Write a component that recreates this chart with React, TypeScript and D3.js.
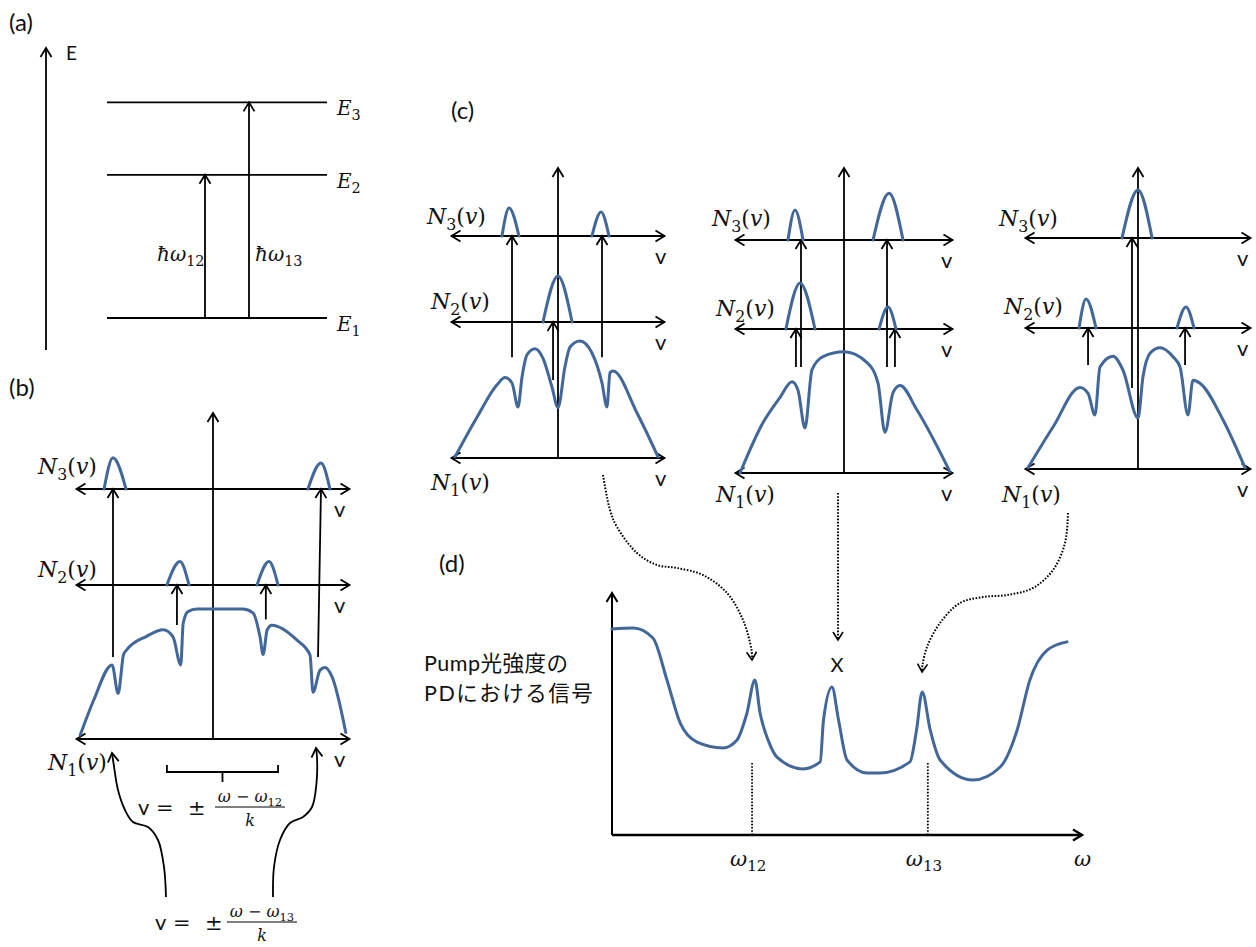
import * as d3 from 'd3';
import React, { useEffect, useRef } from 'react';

type Pt = [number, number];
type Peak = { l: number; c: number; r: number; h: number };
type Arr = { v0: number; v1?: number; n: number; to: 2 | 3 };

// ---------- (a) energy levels (energy units 0..100) ----------
const levelNames = ['1', '2', '3'];
const levelValues = [10.6, 58, 82];
const transitionNames = ['12', '13'];
const transitionTargets = [1, 2];

// ---------- (b) velocity distributions, v in [-1,1], N relative ----------
const curveB: Pt[] = [
  [-0.98, 0.03], [-0.88, 0.3], [-0.745, 0.57], [-0.7, 0.35], [-0.66, 0.65], [-0.637, 0.685],
  [-0.49, 0.79], [-0.367, 0.84], [-0.295, 0.785], [-0.238, 0.57], [-0.22, 0.89], [-0.185, 0.98],
  [-0.118, 1.0], [0.22, 1.0], [0.295, 0.97], [0.347, 0.785], [0.37, 0.65], [0.4, 0.84],
  [0.435, 0.875], [0.62, 0.76], [0.716, 0.646], [0.738, 0.36], [0.79, 0.53], [0.826, 0.55],
  [0.878, 0.48], [0.98, 0.05],
];
const peaksB3: Peak[] = [{ l: -0.804, c: -0.738, r: -0.642, h: 0.24 }, { l: 0.701, c: 0.797, r: 0.863, h: 0.2 }];
const peaksB2: Peak[] = [{ l: -0.34, c: -0.244, r: -0.177, h: 0.18 }, { l: 0.325, c: 0.413, r: 0.48, h: 0.18 }];
const arrowsB: Arr[] = [
  { v0: -0.738, n: 0.63, to: 3 }, { v0: 0.775, v1: 0.797, n: 0.63, to: 3 },
  { v0: -0.266, n: 0.877, to: 2 }, { v0: 0.39, n: 0.92, to: 2 },
];

// ---------- (c) three cases ----------
const curveC1: Pt[] = [
  [-0.976, 0.01], [-0.768, 0.34], [-0.578, 0.61], [-0.502, 0.67], [-0.436, 0.625], [-0.379, 0.425],
  [-0.341, 0.675], [-0.294, 0.86], [-0.218, 0.91], [-0.142, 0.83], [-0.057, 0.59], [0, 0.42],
  [0.066, 0.76], [0.114, 0.925], [0.208, 0.975], [0.322, 0.875], [0.417, 0.625], [0.464, 0.425],
  [0.493, 0.71], [0.521, 0.725], [0.749, 0.375], [0.948, 0.01],
];
const peaksC1_3: Peak[] = [{ l: -0.531, c: -0.464, r: -0.37, h: 0.233 }, { l: 0.322, c: 0.408, r: 0.483, h: 0.2 }];
const peaksC1_2: Peak[] = [{ l: -0.142, c: 0, r: 0.133, h: 0.383 }];
const arrowsC1: Arr[] = [{ v0: -0.436, n: 0.84, to: 3 }, { v0: 0.417, n: 0.84, to: 3 }, { v0: -0.047, n: 0.65, to: 2 }];

const curveC2: Pt[] = [
  [-0.967, 0], [-0.753, 0.42], [-0.595, 0.63], [-0.484, 0.76], [-0.428, 0.69], [-0.363, 0.375],
  [-0.298, 0.86], [-0.195, 0.97], [0, 1.01], [0.214, 0.92], [0.316, 0.75], [0.381, 0.34],
  [0.456, 0.67], [0.521, 0.73], [0.679, 0.525], [0.986, 0.01],
];
const peaksC2_3: Peak[] = [{ l: -0.521, c: -0.456, r: -0.381, h: 0.25 }, { l: 0.27, c: 0.419, r: 0.549, h: 0.39 }];
const peaksC2_2: Peak[] = [{ l: -0.54, c: -0.409, r: -0.27, h: 0.383 }, { l: 0.326, c: 0.409, r: 0.484, h: 0.183 }];
const arrowsC2: Arr[] = [
  { v0: -0.4, n: 0.883, to: 3 }, { v0: -0.447, n: 0.883, to: 2 },
  { v0: 0.4, n: 0.883, to: 3 }, { v0: 0.474, n: 0.883, to: 2 },
];

const curveC3: Pt[] = [
  [-0.987, 0.01], [-0.762, 0.35], [-0.52, 0.68], [-0.448, 0.63], [-0.386, 0.45], [-0.341, 0.85],
  [-0.224, 0.94], [-0.135, 0.825], [0, 0.425], [0.045, 0.77], [0.108, 0.965], [0.197, 1.01],
  [0.314, 0.935], [0.377, 0.85], [0.448, 0.45], [0.493, 0.74], [0.556, 0.715], [0.762, 0.41],
  [0.96, 0.01],
];
const peaksC3_3: Peak[] = [{ l: -0.143, c: 0, r: 0.126, h: 0.4 }];
const peaksC3_2: Peak[] = [{ l: -0.529, c: -0.466, r: -0.377, h: 0.242 }, { l: 0.35, c: 0.43, r: 0.502, h: 0.175 }];
const arrowsC3: Arr[] = [{ v0: -0.448, n: 0.867, to: 2 }, { v0: 0.422, n: 0.867, to: 2 }, { v0: -0.054, n: 0.675, to: 3 }];

// ---------- (d) pump signal vs omega (0..100 units) ----------
const omegaPts = [0, 4.5, 8.7, 11.7, 14.5, 18.1, 23.6, 26.6, 28.7, 30.4, 31.5, 33.2, 35.1, 40.6, 44.3, 45.0, 46.8, 48.2, 50.0, 54.3, 57.0, 63.4, 64.8, 66.0, 67.7, 69.8, 76.8, 82.6, 86.2, 88.9, 92.6, 96.8];
const signalPts = [85.1, 85.5, 81.4, 64.0, 46.3, 38.4, 36.0, 39.3, 50.3, 64.0, 50.4, 39.3, 32.2, 27.3, 30.2, 47.5, 61.2, 47.5, 31.0, 25.6, 25.6, 30.2, 43.4, 59.1, 43.4, 31.0, 22.7, 28.1, 43.4, 64.0, 76.4, 79.8];
const omegaMarks = [29.8, 67.2];
const omegaMarkNames = ['12', '13'];
const omegaMarkTop = 29.8;

const BLACK = '#000';
const BLUE = '#42679a';
const SANS = 'Lato, "Noto Sans CJK JP", sans-serif';
const SERIF = '"DejaVu Serif", serif';

type Sel = d3.Selection<SVGGElement, unknown, null, undefined>;

function head(g: Sel, x: number, y: number, ang: number, len = 9, hw = 5.5, w = 1.8) {
  const dx = Math.cos(ang), dy = Math.sin(ang);
  const p1 = [x - len * dx - hw * dy, y - len * dy + hw * dx];
  const p2 = [x - len * dx + hw * dy, y - len * dy - hw * dx];
  g.append('path').attr('d', `M${p1[0]},${p1[1]}L${x},${y}L${p2[0]},${p2[1]}`)
    .attr('fill', 'none').attr('stroke', BLACK).attr('stroke-width', w);
}
function arrow(g: Sel, x0: number, y0: number, x1: number, y1: number, w = 1.8) {
  g.append('line').attr('x1', x0).attr('y1', y0).attr('x2', x1).attr('y2', y1)
    .attr('stroke', BLACK).attr('stroke-width', w);
  head(g, x1, y1, Math.atan2(y1 - y0, x1 - x0), 9, 5.5, w);
}
function dblArrow(g: Sel, x0: number, x1: number, y: number) {
  g.append('line').attr('x1', x0).attr('y1', y).attr('x2', x1).attr('y2', y)
    .attr('stroke', BLACK).attr('stroke-width', 1.8);
  head(g, x0, y, Math.PI);
  head(g, x1, y, 0);
}
type Part = { t: string; it?: boolean; sub?: boolean; font?: string };
function mathText(g: Sel, x: number, y: number, parts: Part[], size: number, anchor = 'start') {
  const t = g.append('text').attr('x', x).attr('y', y).attr('font-size', size)
    .attr('font-family', SERIF).attr('text-anchor', anchor).attr('fill', '#111');
  let low = false;
  parts.forEach(p => {
    const s = t.append('tspan').text(p.t);
    if (p.it) s.attr('font-style', 'italic');
    if (p.font) s.attr('font-family', p.font);
    if (p.sub) {
      s.attr('font-size', size * 0.72);
      if (!low) s.attr('dy', size * 0.25);
      low = true;
    } else if (low) {
      s.attr('dy', -size * 0.25);
      low = false;
    }
  });
  return t;
}
function plainText(g: Sel, x: number, y: number, s: string, size: number, anchor = 'start') {
  return g.append('text').attr('x', x).attr('y', y).attr('font-size', size)
    .attr('font-family', SANS).attr('text-anchor', anchor).attr('fill', '#111').text(s);
}
const nLabel = (k: string): Part[] => [{ t: 'N', it: true }, { t: k, sub: true }, { t: '(' }, { t: 'v', it: true }, { t: ')' }];

type VPanel = {
  cx: number; half: number; y3: number; y2: number; y1: number; top: number; nPx: number;
  curve: Pt[]; p3: Peak[]; p2: Peak[]; arrows: Arr[];
  lab3: Pt; lab2: Pt; lab1: Pt; vx: number;
};

const vPanels: VPanel[] = [
  { cx: 213, half: 135.5, y3: 489, y2: 585, y1: 739, top: 413, nPx: 130, curve: curveB, p3: peaksB3, p2: peaksB2, arrows: arrowsB,
    lab3: [38, 474], lab2: [38, 577], lab1: [48, 770], vx: 334 },
  { cx: 558, half: 105.5, y3: 236, y2: 322, y1: 458, top: 168, nPx: 120, curve: curveC1, p3: peaksC1_3, p2: peaksC1_2, arrows: arrowsC1,
    lab3: [427, 224], lab2: [431, 309], lab1: [431, 490], vx: 655 },
  { cx: 844, half: 107.5, y3: 240, y2: 329, y1: 473, top: 168, nPx: 120, curve: curveC2, p3: peaksC2_3, p2: peaksC2_2, arrows: arrowsC2,
    lab3: [712, 226], lab2: [716, 316], lab1: [716, 502], vx: 941 },
  { cx: 1138, half: 111.5, y3: 238, y2: 328, y1: 469, top: 168, nPx: 120, curve: curveC3, p3: peaksC3_3, p2: peaksC3_2, arrows: arrowsC3,
    lab3: [999, 226], lab2: [1004, 314], lab1: [1002, 502], vx: 1237 },
];

function drawVPanel(g: Sel, p: VPanel) {
  const x = d3.scaleLinear().domain([-1, 1]).range([p.cx - p.half, p.cx + p.half]);
  const yFor = (base: number) => d3.scaleLinear().domain([0, 1]).range([base, base - p.nPx]);
  const y1 = yFor(p.y1), y2 = yFor(p.y2), y3 = yFor(p.y3);
  const line = (ys: d3.ScaleLinear<number, number>) =>
    d3.line<Pt>().x(d => x(d[0])).y(d => ys(d[1])).curve(d3.curveMonotoneX);

  // axes
  arrow(g, p.cx, p.y1, p.cx, p.top);
  [p.y3, p.y2, p.y1].forEach(yy => dblArrow(g, x(-1) - 1, x(1) + 1, yy));

  // transition arrows
  p.arrows.forEach(a => {
    const tip = a.to === 3 ? p.y3 : p.y2;
    arrow(g, x(a.v0), y1(a.n), x(a.v1 ?? a.v0), tip);
  });

  // distributions
  const blue = (sel: d3.Selection<SVGPathElement, unknown, null, undefined>) =>
    sel.attr('fill', 'none').attr('stroke', BLUE).attr('stroke-width', 3).attr('stroke-linecap', 'round');
  g.append('path').attr('d', line(y1)(p.curve)).call(blue);
  p.p3.forEach(k => g.append('path').attr('d', line(y3)([[k.l, 0], [k.c, k.h], [k.r, 0]])).call(blue));
  p.p2.forEach(k => g.append('path').attr('d', line(y2)([[k.l, 0], [k.c, k.h], [k.r, 0]])).call(blue));

  // labels
  mathText(g, p.lab3[0], p.lab3[1], nLabel('3'), 22);
  mathText(g, p.lab2[0], p.lab2[1], nLabel('2'), 22);
  mathText(g, p.lab1[0], p.lab1[1], nLabel('1'), 22);
  [p.y3, p.y2, p.y1].forEach(yy => plainText(g, p.vx, yy + 28, 'v', 22));
  return x;
}

function draw(svg: d3.Selection<SVGSVGElement, unknown, null, undefined>) {
  const g = svg.append('g') as unknown as Sel;
  g.append('rect').attr('width', 1256).attr('height', 947).attr('fill', '#fff');

  // ---------- (a) ----------
  plainText(g, 9, 31, '(a)', 24);
  const yE = d3.scaleLinear().domain([0, 100]).range([350, 48]);
  arrow(g, 46, yE(0), 46, yE(100));
  plainText(g, 66, 60, 'E', 19);
  levelValues.forEach((v, i) => {
    g.append('line').attr('x1', 107).attr('x2', 327).attr('y1', yE(v)).attr('y2', yE(v))
      .attr('stroke', BLACK).attr('stroke-width', 1.8);
    mathText(g, 337, yE(v) + 13, [{ t: 'E', it: true }, { t: levelNames[i], sub: true }], 20);
  });
  const transX = [205, 249];
  transitionTargets.forEach((to, i) => {
    arrow(g, transX[i], yE(levelValues[0]), transX[i], yE(levelValues[to]));
  });
  mathText(g, 157, 261, [{ t: 'ħ', it: true }, { t: 'ω', it: true }, { t: transitionNames[0], sub: true }], 20);
  mathText(g, 255, 261, [{ t: 'ħ', it: true }, { t: 'ω', it: true }, { t: transitionNames[1], sub: true }], 20);

  // ---------- (b), (c) ----------
  plainText(g, 9, 396, '(b)', 24);
  plainText(g, 451, 119, '(c)', 24);
  const xs = vPanels.map(p => drawVPanel(g, p));

  // bracket under (b) spanning the N2 holes
  const xb = xs[0];
  const bl = xb(peaksB2[0].l), br = xb(peaksB2[1].r), bm = (bl + br) / 2;
  g.append('path').attr('d', `M${bl},765V772H${br}V765M${bm},772V782`)
    .attr('fill', 'none').attr('stroke', BLACK).attr('stroke-width', 1.8);

  // formulas
  const formula = (vx: number, base: number, numX: number, sub: string) => {
    plainText(g, vx, base + 8, 'v', 22);
    mathText(g, vx + 18, base + 8, [{ t: '=' }], 21);
    mathText(g, vx + 50, base + 8, [{ t: '±' }], 21);
    mathText(g, numX, base - 5, [{ t: 'ω', it: true }, { t: ' − ' }, { t: 'ω', it: true }, { t: sub, sub: true }], 16, 'middle');
    g.append('line').attr('x1', numX - 35).attr('x2', numX + 35).attr('y1', base).attr('y2', base)
      .attr('stroke', BLACK).attr('stroke-width', 1);
    mathText(g, numX, base + 19, [{ t: 'k', it: true }], 16, 'middle');
  };
  formula(138, 807, 250, '12');
  formula(155, 922, 262, '13');

  const curved = (pts: Pt[], dotted = false) => {
    const path = g.append('path').attr('d', d3.line().curve(d3.curveCatmullRom.alpha(0.5))(pts))
      .attr('fill', 'none').attr('stroke', BLACK).attr('stroke-width', dotted ? 2 : 1.8);
    if (dotted) path.attr('stroke-dasharray', '1.6,1.6');
    const a = pts[pts.length - 2], b = pts[pts.length - 1];
    head(g, b[0], b[1], Math.atan2(b[1] - a[1], b[0] - a[0]), dotted ? 8 : 9, dotted ? 5 : 5.5, dotted ? 1.6 : 1.8);
  };
  curved([[166, 897], [164, 867], [158, 840], [148, 827], [133, 822], [125, 810], [118, 790], [113.5, 763], [112, 753]]);
  curved([[273, 897], [274, 867], [280, 840], [290, 823], [303, 817], [312, 807], [316.5, 783], [317, 757], [316, 748]]);

  // ---------- (d) ----------
  plainText(g, 439, 572, '(d)', 24);
  const xw = d3.scaleLinear().domain([0, 100]).range([612, 1082]);
  const ys = d3.scaleLinear().domain([0, 100]).range([835, 593]);
  arrow(g, xw(0), ys(0), xw(0), ys(100), 2);
  arrow(g, xw(0), ys(0), xw(100), ys(0), 2.4);
  const sig = d3.line<number>().x(d => xw(d)).y((d, i) => ys(signalPts[i])).curve(d3.curveMonotoneX);
  g.append('path').attr('d', sig(omegaPts)).attr('fill', 'none').attr('stroke', BLUE)
    .attr('stroke-width', 3).attr('stroke-linecap', 'round');
  omegaMarks.forEach((m, i) => {
    g.append('line').attr('x1', xw(m)).attr('x2', xw(m)).attr('y1', ys(0)).attr('y2', ys(omegaMarkTop))
      .attr('stroke', BLACK).attr('stroke-width', 1.8).attr('stroke-dasharray', '1.6,1.6');
    mathText(g, xw(m) - 22, 866, [{ t: 'ω', it: true }, { t: omegaMarkNames[i], sub: true }], 21);
  });
  mathText(g, 1074, 866, [{ t: 'ω', it: true }], 21);
  plainText(g, 837, 672, 'X', 20, 'middle');
  plainText(g, 424, 671, 'Pump光強度の', 21.5).attr('letter-spacing', 0.5);
  plainText(g, 424, 701, 'PDにおける信号', 21.5).attr('letter-spacing', 1.5);

  // dotted connectors from (c) to (d)
  curved([[603, 475], [610, 510], [617, 527], [637, 553], [657, 565], [677, 568], [703, 575], [727, 593], [743, 620], [751.5, 650], [752, 660]], true);
  curved([[838, 493], [838, 640]], true);
  curved([[1068, 513], [1065, 543], [1053, 570], [1033, 588], [1007, 595], [983, 597], [960, 603], [940, 623], [927, 647], [922.5, 665], [922, 672]], true);
}

const App = () => {
  const ref = useRef<SVGSVGElement>(null);
  useEffect(() => {
    const svg = d3.select(ref.current as SVGSVGElement);
    svg.selectAll('*').remove();
    draw(svg as unknown as d3.Selection<SVGSVGElement, unknown, null, undefined>);
  }, []);
  return (
    <svg ref={ref} width={1256} height={947}
      style={{ position: 'absolute', left: 0, top: 0, display: 'block', background: '#fff' }} />
  );
};

export default App;
